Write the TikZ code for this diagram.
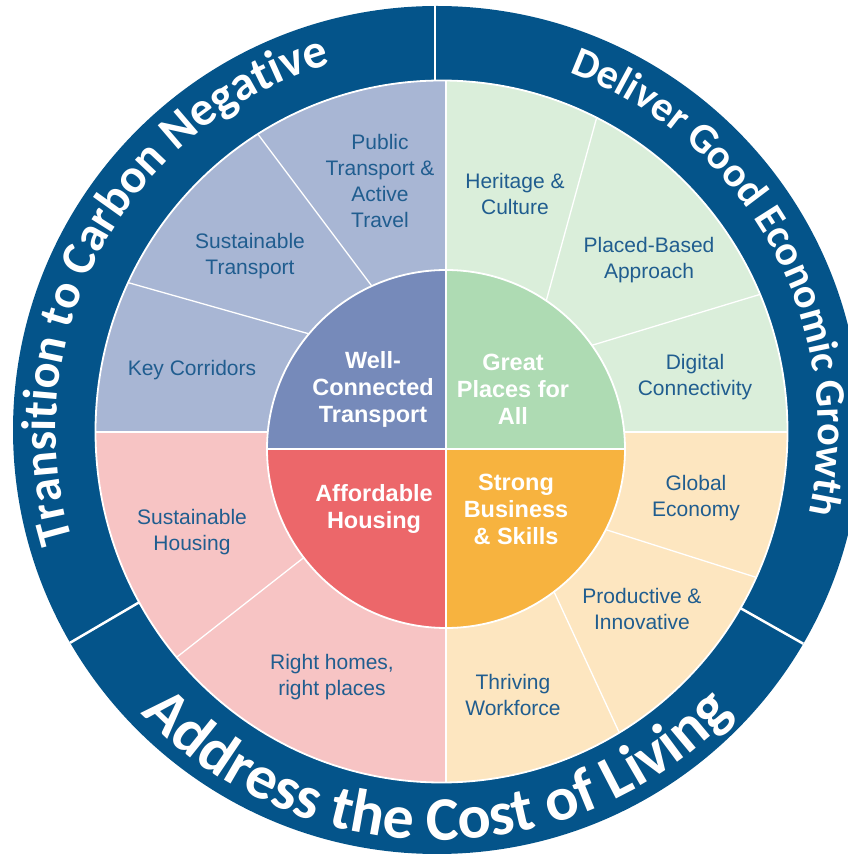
\documentclass[tikz,border=0pt]{standalone}
\usepackage{fontspec}
\setmainfont{Liberation Sans}
\newfontfamily\ringfont{Carlito}
\usetikzlibrary{decorations.text,calc}
\definecolor{ringblue}{HTML}{04548A}
\definecolor{tlout}{HTML}{A8B6D4}
\definecolor{tlin}{HTML}{768ABA}
\definecolor{trout}{HTML}{DAEEDA}
\definecolor{trin}{HTML}{AEDBB3}
\definecolor{brout}{HTML}{FDE6C0}
\definecolor{brin}{HTML}{F7B33F}
\definecolor{blout}{HTML}{F7C4C4}
\definecolor{blin}{HTML}{EC676A}
\definecolor{labelblue}{HTML}{205D8F}
\begin{document}
\begin{tikzpicture}[x=1pt,y=1pt,
  sublabel/.style={text=labelblue, align=center, font=\fontsize{21}{26}\selectfont},
  corelabel/.style={text=white, align=center, font=\fontsize{23.5}{27}\selectfont\bfseries},
  divider/.style={draw=white, line width=1.3pt},
  quadline/.style={draw=white, line width=2pt},
  rimline/.style={draw=white, line width=1.8pt},
  ringsep/.style={draw=white, line width=2.5pt}]
\useasboundingbox (0,0) rectangle (848,855);
\begin{scope}
\clip (0,0) rectangle (848,855);
\coordinate (rc) at (437,425);
\coordinate (oc) at (441.5,423.5);
\coordinate (ic) at (446,406);
% outer ring
\fill[ringblue] (rc) circle (424);
% ring separators
\coordinate (s1a) at (435,775); \coordinate (s1b) at (435,848);
\coordinate (s2a) at (742,246); \coordinate (s2b) at (802,212);
\coordinate (s3a) at (138,252); \coordinate (s3b) at (68,211);
\begin{scope}
\clip (rc) circle (424);
\draw[ringsep] ($(s1b)!1.3!(s1a)$) -- ($(s1a)!3!(s1b)$);
\draw[ringsep] ($(s2b)!1.3!(s2a)$) -- ($(s2a)!3!(s2b)$);
\draw[ringsep] ($(s3b)!1.3!(s3a)$) -- ($(s3a)!3!(s3b)$);
\end{scope}
% ring texts
\path[decorate, decoration={text along path, text align=center, text color=white,
  text={|\ringfont\bfseries\fontsize{48.5}{48.5}\selectfont|Transition to Carbon Negative}}]
  ($(rc)+(211.5:381)$) arc[start angle=211.5, end angle=91.5, radius=381];
\path[decorate, decoration={text along path, text align=center, text color=white,
  text={|\ringfont\bfseries\fontsize{42}{42}\selectfont|Deliver Good Economic Growth}}]
  ($(rc)+(88.5:381)$) arc[start angle=88.5, end angle=-31.5, radius=381];
\begin{scope}[shift={(2,-3)}, opacity=0.3]
\path[decorate, decoration={text along path, text align=center, text color=black,
  text={|\ringfont\bfseries\fontsize{62}{62}\selectfont|Address the Cost of Living}}]
  ($(rc)+(205:410)$) arc[start angle=205, end angle=335, radius=410];
\end{scope}
\path[decorate, decoration={text along path, text align=center, text color=white,
  text={|\ringfont\bfseries\fontsize{62}{62}\selectfont|Address the Cost of Living}}]
  ($(rc)+(205:410)$) arc[start angle=205, end angle=335, radius=410];
% outer coloured segments
\coordinate (d1a) at (260,718); \coordinate (d1b) at (371,570);
\coordinate (d2a) at (133,571); \coordinate (d2b) at (306,522);
\coordinate (d3a) at (593,724); \coordinate (d3b) at (547,557);
\coordinate (d4a) at (758,560); \coordinate (d4b) at (593,510);
\coordinate (d5a) at (755,278); \coordinate (d5b) at (607,325);
\coordinate (d6a) at (619,123); \coordinate (d6b) at (556,259);
\coordinate (d7a) at (177,198); \coordinate (d7b) at (302,296);
\begin{scope}
\clip (oc) ellipse [x radius=346, y radius=351];
\fill[tlout] (0,423) rectangle (446,855);
\fill[trout] (446,423) rectangle (848,855);
\fill[blout] (0,0) rectangle (446,423);
\fill[brout] (446,0) rectangle (848,423);
\foreach \d in {d1,d2,d3,d4,d5,d6,d7}{
  \draw[divider] ($(\d b)!1.2!(\d a)$) -- ($(\d a)!1.2!(\d b)$);
}
\draw[quadline] (446,0) -- (446,855);
\draw[quadline] (0,423) -- (848,423);
\end{scope}
\draw[rimline] (oc) ellipse [x radius=346, y radius=351];
% inner circle
\begin{scope}
\clip (ic) circle (179);
\fill[tlin] (ic) rectangle (200,640);
\fill[trin] (ic) rectangle (700,640);
\fill[blin] (ic) rectangle (200,180);
\fill[brin] (ic) rectangle (700,180);
\draw[quadline] (446,180) -- (446,640);
\draw[quadline] (200,406) -- (700,406);
\end{scope}
\draw[rimline] (ic) circle (179);
% labels
\node[sublabel] (pt)  at (380,674) {Public\\Transport \&\\Active\\Travel};
\node[sublabel] (st)  at (250,599) {Sustainable\\Transport};
\node[sublabel] (kc)  at (192,485) {Key Corridors};
\node[sublabel] (hc)  at (515,661) {Heritage \&\\Culture};
\node[sublabel] (pba) at (649,595) {Placed-Based\\Approach};
\node[sublabel] (dc)  at (695,478) {Digital\\Connectivity};
\node[sublabel] (sh)  at (192,323) {Sustainable\\Housing};
\node[sublabel] (rh)  at (332,178) {Right homes,\\right places};
\node[sublabel] (ge)  at (696,357) {Global\\Economy};
\node[sublabel] (pi)  at (642,246) {Productive \&\\Innovative};
\node[sublabel] (tw)  at (513,160) {Thriving\\Workforce};
\node[corelabel] (wct) at (373,466) {Well-\\Connected\\Transport};
\node[corelabel] (gpa) at (513,466) {Great\\Places for\\All};
\node[corelabel] (ah)  at (374,346) {Affordable\\Housing};
\node[corelabel] (sbs) at (516,346) {Strong\\Business\\\& Skills};
\end{scope}
\end{tikzpicture}
\end{document}
